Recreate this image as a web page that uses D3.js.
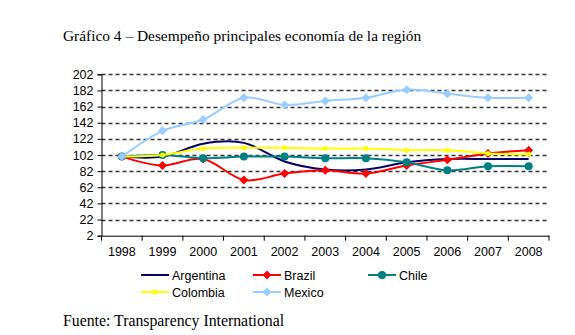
<!DOCTYPE html>
<html><head><meta charset="utf-8">
<script src="https://cdn.jsdelivr.net/npm/d3@7/dist/d3.min.js"></script>
<style>body{margin:0;background:#fff}svg{display:block}</style>
</head><body><div id="c"></div>
<script>
const years = ["1998","1999","2000","2001","2002","2003","2004","2005","2006","2007","2008"];
const yTicks = [2,22,42,62,82,102,122,142,162,182,202];
const argentina = [100,100,116,117,94,84,84,93,97,97,97];
const brazil = [100,89,97,71,79,83,79,89,96,104,108];
const chile = [100,102,98,100,100,98,98,93,83,88,88];
const colombia = [100,102,110,111,111,110,110,108,108,104,103];
const mexico = [100,132,146,173,164,169,173,183,178,173,173];
const seriesNames = ["Argentina","Brazil","Chile","Colombia","Mexico"];

(function(){
const series = [
  {name:seriesNames[0], values:argentina, color:"#000066", marker:"none"},
  {name:seriesNames[1], values:brazil, color:"#ff0000", marker:"diamond"},
  {name:seriesNames[2], values:chile, color:"#008080", marker:"circle"},
  {name:seriesNames[3], values:colombia, color:"#ffff00", marker:"small"},
  {name:seriesNames[4], values:mexico, color:"#99ccff", marker:"diamond"}
];

const W=575,H=335;
const svg=d3.select("#c").append("svg").attr("width",W).attr("height",H);
const pL=101.5,pR=549,pT=74.3,pB=235.7;
const x=d3.scaleBand().domain(years).range([pL,pR]);
const y=d3.scaleLinear().domain([2,202]).range([pB,pT]);

svg.append("text").attr("x",63).attr("y",41).attr("font-family","Liberation Serif").attr("font-size",15.4).attr("fill","#000")
  .text("Gráfico 4 – Desempeño principales economía de la región");

svg.append("g").selectAll("line").data(yTicks.slice(1)).join("line")
  .attr("x1",pL).attr("x2",pR).attr("y1",d=>Math.round(y(d))+0.5).attr("y2",d=>Math.round(y(d))+0.5)
  .attr("stroke","#333").attr("stroke-width",1.3).attr("stroke-dasharray","4,3");

const ya=svg.append("g").attr("transform",`translate(${pL},0)`)
  .call(d3.axisLeft(y).tickValues(yTicks).tickSize(4).tickPadding(4));
ya.select(".domain").attr("stroke","#000");
ya.selectAll("text").attr("font-family","Liberation Sans, Arial").attr("font-size",12.5).attr("fill","#000");

const xa=svg.append("g").attr("transform",`translate(0,${pB})`)
  .call(d3.axisBottom(x).tickSize(0).tickPadding(11));
xa.select(".domain").attr("stroke","#000");
xa.selectAll("text").attr("font-family","Liberation Sans, Arial").attr("font-size",12.5).attr("fill","#000");
xa.append("g").selectAll("line").data(years.concat(["end"])).join("line")
  .attr("x1",(d,i)=>pL+i*x.bandwidth()).attr("x2",(d,i)=>pL+i*x.bandwidth())
  .attr("y1",0).attr("y2",5).attr("stroke","#000");

const cx=d=>x(d)+x.bandwidth()/2;
const line=d3.line().x((d,i)=>cx(years[i])).y(d=>y(d)).curve(d3.curveCardinal.tension(0));

function drawMarker(g,s,px,py){
  if(s.marker==="diamond"){
    g.append("path").attr("d",`M${px},${py-4.5}L${px+4.5},${py}L${px},${py+4.5}L${px-4.5},${py}Z`).attr("fill",s.color);
  } else if(s.marker==="circle"){
    g.append("circle").attr("cx",px).attr("cy",py).attr("r",4).attr("fill",s.color);
  } else if(s.marker==="small"){
    g.append("circle").attr("cx",px).attr("cy",py).attr("r",2.5).attr("fill",s.color);
  }
}

series.forEach(s=>{
  const g=svg.append("g");
  g.append("path").attr("d",line(s.values)).attr("fill","none").attr("stroke",s.color).attr("stroke-width",2);
  s.values.forEach((v,i)=>drawMarker(g,s,cx(years[i]),y(v)));
});

const legPos=[[141,275],[253,275],[368,275],[141,292],[253,292]];
series.forEach((s,i)=>{
  const [lx,ly]=legPos[i];
  const g=svg.append("g");
  g.append("line").attr("x1",lx).attr("x2",lx+28).attr("y1",ly).attr("y2",ly).attr("stroke",s.color).attr("stroke-width",2);
  drawMarker(g,s,lx+14,ly);
  g.append("text").attr("x",lx+31).attr("y",ly+4.5).attr("font-family","Liberation Sans, Arial").attr("font-size",12.5).attr("fill","#000").text(s.name);
});

svg.append("text").attr("x",63).attr("y",326).attr("font-family","Liberation Serif").attr("font-size",15.8).attr("fill","#000")
  .text("Fuente: Transparency International");
})();
</script></body></html>
